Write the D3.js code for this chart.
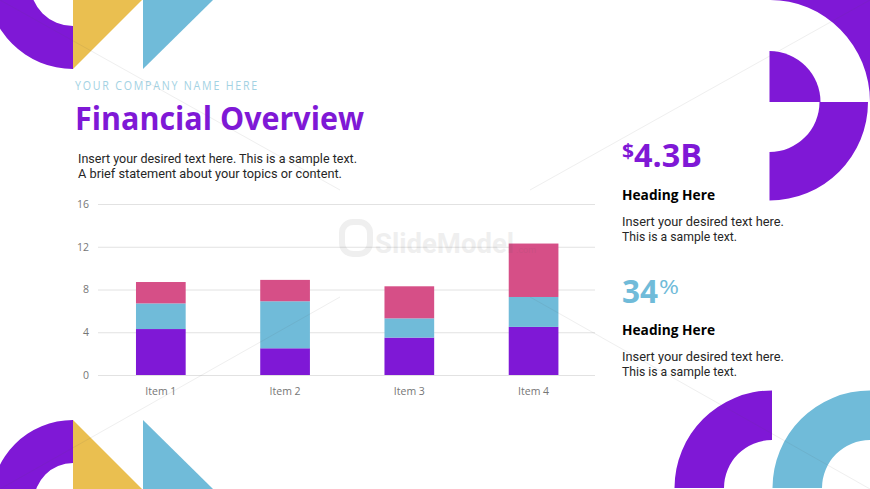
<!DOCTYPE html>
<html>
<head>
<meta charset="utf-8">
<title>Financial Overview</title>
<script src="https://cdn.jsdelivr.net/npm/d3@7"></script>
<style>
html, body { margin: 0; padding: 0; background: #fff; }
svg { display: block; font-family: "Open Sans", sans-serif; }
.axis text { fill: #767676; font-size: 10.5px; font-family: "Open Sans", sans-serif; }
.axis line { stroke: #e2e2e2; stroke-width: 1; }
.axis .domain { display: none; }
</style>
</head>
<body>
<div id="slide"></div>
<script>
//Chart values
var items = ["Item 1", "Item 2", "Item 3", "Item 4"];
var series1 = [4.3, 2.5, 3.5, 4.5];
var series2 = [2.4, 4.4, 1.8, 2.8];
var series3 = [2, 2, 3, 5];
var yTicks = [0, 4, 8, 12, 16];

var purple = "#7f18d6", blue = "#70bbd9", pink = "#d64f87", yellow = "#eabf50";
var seriesColors = [purple, blue, pink];

var width = 870, height = 489;
var margin = {top: 204, right: 275, bottom: 114, left: 98};

var svg = d3.select("#slide").append("svg")
    .attr("width", width)
    .attr("height", height);

//Corner decorations
var deco = svg.append("g");

function ring(cx, cy, inner, outer, start, end, color){
    deco.append("path")
        .attr("transform", "translate(" + cx + "," + cy + ")")
        .attr("d", d3.arc()({innerRadius: inner, outerRadius: outer, startAngle: start, endAngle: end}))
        .attr("fill", color);
}

function triangle(points, color){
    deco.append("polygon")
        .attr("points", points)
        .attr("fill", color);
}

var PI = Math.PI;

//top left
ring(73, -17, 43, 86, PI, 1.5 * PI, purple);
triangle("73,0 142,0 73,69", yellow);
triangle("143,0 213,0 143,69", blue);

//bottom left
ring(73, 502, 39, 82, 1.5 * PI, 2 * PI, purple);
triangle("73,420 142,489 73,489", yellow);
triangle("143,420 213,489 143,489", blue);

//top right, corner with a circle cut out of it
deco.append("path")
    .attr("d", "M769.5,0 A100,102 0 0 1 870,102 L870,0 Z")
    .attr("fill", purple);
ring(769.5, 102, 0, 51, 0, PI / 2, purple);
ring(769.5, 102, 50, 98.5, PI / 2, PI, purple);

//bottom right
ring(772, 488, 48, 97.5, 1.5 * PI, 2 * PI, purple);
ring(870, 488, 48, 97.5, 1.5 * PI, 2 * PI, blue);

//Chart
var plotWidth = width - margin.left - margin.right;
var plotHeight = height - margin.top - margin.bottom;

var xScale = d3.scaleBand()
    .domain(items)
    .range([margin.left + 0.7, margin.left + plotWidth + 0.7])
    .paddingInner(0.6)
    .paddingOuter(0.3);

var yScale = d3.scaleLinear()
    .domain([0, 16])
    .range([margin.top + plotHeight, margin.top]);

svg.append("g")
    .attr("class", "axis")
    .attr("transform", "translate(" + margin.left + ",0)")
    .call(d3.axisLeft(yScale).tickValues(yTicks).tickSize(-plotWidth).tickPadding(9))
    .call(function(g){ g.select(".domain").remove(); });

svg.append("g")
    .attr("class", "axis")
    .attr("transform", "translate(0," + (margin.top + plotHeight) + ")")
    .call(d3.axisBottom(xScale).tickSize(0).tickPadding(13))
    .call(function(g){ g.select(".domain").remove(); });

var table = items.map(function(d, i){
    return {item: d, s1: series1[i], s2: series2[i], s3: series3[i]};
});

var stacked = d3.stack().keys(["s1", "s2", "s3"])(table);

svg.selectAll(".layer")
    .data(stacked)
    .enter()
    .append("g")
    .attr("class", "layer")
    .attr("fill", function(d, i){ return seriesColors[i]; })
    .selectAll("rect")
    .data(function(d){ return d; })
    .enter()
    .append("rect")
    .attr("x", function(d){ return xScale(d.data.item); })
    .attr("y", function(d){ return yScale(d[1]); })
    .attr("width", xScale.bandwidth())
    .attr("height", function(d){ return yScale(d[0]) - yScale(d[1]); });

//Text, squeezed to the measured widths since the slide font is not installed
function label(str, x, y, size, weight, color, len, spacing){
    var t = svg.append("text")
        .attr("x", x)
        .attr("y", y)
        .attr("font-size", size)
        .attr("font-weight", weight)
        .attr("fill", color)
        .text(str);
    if (spacing) t.attr("letter-spacing", spacing);
    if (len) t.attr("textLength", len).attr("lengthAdjust", "spacingAndGlyphs");
    return t;
}

//body text, Roboto keeps the 15px line pitch without the line boxes colliding
function paragraph(lines, x, y, lens){
    var t = svg.append("text")
        .attr("font-family", "Roboto, sans-serif")
        .attr("font-size", 12.7)
        .attr("fill", "#262626");
    lines.forEach(function(line, i){
        t.append("tspan")
            .attr("x", x)
            .attr("y", y + i * 15)
            .attr("textLength", lens[i])
            .attr("lengthAdjust", "spacingAndGlyphs")
            .text(line);
    });
}

var sampleLines = ["Insert your desired text here.", "This is a sample text."];

label("YOUR COMPANY NAME HERE", 75, 90, 12, 400, "#a3d2e3", 184, 2);
label("Financial Overview", 75, 130, 32, 700, purple, 289);
paragraph(["Insert your desired text here. This is a sample text.",
           "A brief statement about your topics or content."], 78, 163, [279, 264]);

label("$", 622, 158, 20, 700, purple, 12);
label("4.3B", 634, 167, 32, 700, purple, 68);
label("Heading Here", 622, 200, 14, 700, "#000", 93);
paragraph(sampleLines, 622, 226, [162, 115]);

label("34", 622, 303, 32, 700, blue, 36);
label("%", 659, 294, 20, 400, blue, 20);
label("Heading Here", 622, 335, 14, 700, "#000", 93);
paragraph(sampleLines, 622, 361, [162, 115]);

//Faint watermark, sits on top of everything
var mark = svg.append("g").attr("opacity", 0.09);
var markLines = [[0, 0, 340, 190], [530, 190, 870, 0], [0, 489, 340, 297], [530, 297, 870, 489]];

mark.selectAll("line")
    .data(markLines)
    .enter()
    .append("line")
    .attr("x1", function(d){ return d[0]; })
    .attr("y1", function(d){ return d[1]; })
    .attr("x2", function(d){ return d[2]; })
    .attr("y2", function(d){ return d[3]; })
    .attr("stroke", "#555")
    .attr("stroke-width", 1);

mark.append("rect")
    .attr("x", 342)
    .attr("y", 222)
    .attr("width", 28)
    .attr("height", 32)
    .attr("rx", 11)
    .attr("fill", "none")
    .attr("stroke", "#555")
    .attr("stroke-width", 6);

var markText = svg.append("text")
    .attr("x", 375)
    .attr("y", 253)
    .attr("font-family", "Roboto, sans-serif")
    .attr("fill", "#555")
    .attr("opacity", 0.09);

markText.append("tspan")
    .attr("font-size", 27.5)
    .attr("font-weight", 700)
    .text("SlideModel");

markText.append("tspan")
    .attr("font-size", 9)
    .attr("dx", 2)
    .text(".com");
</script>
</body>
</html>
